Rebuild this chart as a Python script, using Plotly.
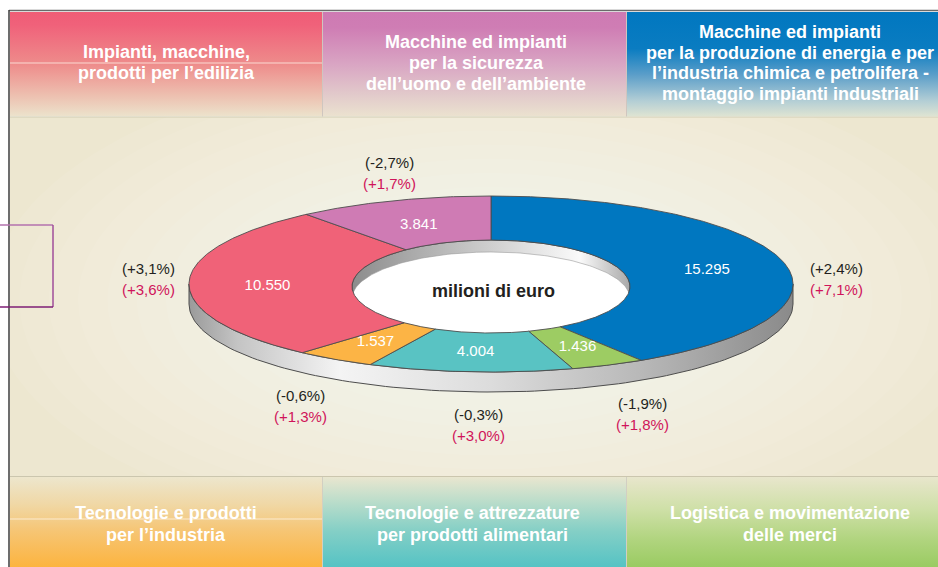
import numpy as np
import plotly.graph_objects as go

# ---------------- data ----------------
categories = [
    "Macchine ed impianti per la produzione di energia e per l’industria chimica e petrolifera - montaggio impianti industriali",
    "Logistica e movimentazione delle merci",
    "Tecnologie e attrezzature per prodotti alimentari",
    "Tecnologie e prodotti per l’industria",
    "Impianti, macchine, prodotti per l’edilizia",
    "Macchine ed impianti per la sicurezza dell’uomo e dell’ambiente",
]
values = [15295, 1436, 4004, 1537, 10550, 3841]          # milioni di euro
value_labels = ["15.295", "1.436", "4.004", "1.537", "10.550", "3.841"]
var_first = ["(+2,4%)", "(-1,9%)", "(-0,3%)", "(-0,6%)", "(+3,1%)", "(-2,7%)"]
var_second = ["(+7,1%)", "(+1,8%)", "(+3,0%)", "(+1,3%)", "(+3,6%)", "(+1,7%)"]
center_label = "milioni di euro"

header_top = [
    ["Impianti, macchine,", "prodotti per l’edilizia"],
    ["Macchine ed impianti", "per la sicurezza", "dell’uomo e dell’ambiente"],
    ["Macchine ed impianti", "per la produzione di energia e per",
     "l’industria chimica e petrolifera -", "montaggio impianti industriali"],
]
header_bottom = [
    ["Tecnologie e prodotti", "per l’industria"],
    ["Tecnologie e attrezzature", "per prodotti alimentari"],
    ["Logistica e movimentazione", "delle merci"],
]

# ---------------- styles / layout ----------------
W, H = 938, 567
slice_colors = ["#0077c0", "#9dcc63", "#59c3c3", "#fcb445", "#f06278", "#cf7bb4"]
FONT = "Liberation Sans, Arial, Helvetica, sans-serif"
CX, CY, RX, RY = 491, 284, 302, 88          # outer ellipse (top face)
HCX, HCY, HRX, HRY = 491, 286.5, 139, 46.5  # hole ellipse
THICK = 20
FLOOR = 12
pct_pos = [(836, 279), (642, 414), (478, 425), (300, 406), (148, 279), (389, 173)]

fig = go.Figure()


def add_poly(xs, ys, fill=None, line_color=None, line_width=0, gradient=None, opacity=1.0):
    kw = dict(x=list(xs) + [xs[0]], y=list(ys) + [ys[0]], mode="lines", fill="toself",
              hoverinfo="skip", showlegend=False, opacity=opacity,
              line=dict(color=line_color or "rgba(0,0,0,0)", width=line_width))
    if gradient is not None:
        kw["fillgradient"] = gradient
    else:
        kw["fillcolor"] = fill
    fig.add_trace(go.Scatter(**kw))


def arc(cx, cy, rx, ry, t0, t1, n=120):
    t = np.radians(np.linspace(t0, t1, n))
    return cx + rx * np.sin(t), cy - ry * np.cos(t)


# cream panel
add_poly([10, W, W, 10], [117, 117, 477, 477], fill="#ede7d0")
# radial glow (stacked translucent ellipses)
for s in np.linspace(1.0, 0.12, 16):
    ex, ey = arc(490, 300, 500 * s, 240 * s, 0, 360, 180)
    add_poly(ex, ey, fill="rgba(255,255,253,1)", opacity=0.065)

# header boxes (vertical gradients)
top_boxes = [(10, 322.5), (322.5, 626.5), (626.5, W)]
top_scales = [
    [[0, "#ef5d76"], [0.12, "#f0617a"], [0.5, "#ee8c8b"], [0.8, "#edc0b0"], [1, "#ece3cc"]],
    [[0, "#ce7ab3"], [0.15, "#cf7db4"], [0.5, "#d9a5c3"], [0.8, "#e2cbcb"], [1, "#ebe2cf"]],
    [[0, "#0077c0"], [0.35, "#0a7cc1"], [0.6, "#5b9ec9"], [0.85, "#b3ced5"], [1, "#dfe4d2"]],
]
for (x0, x1), cs in zip(top_boxes, top_scales):
    add_poly([x0, x1, x1, x0], [12, 12, 116.5, 116.5],
             gradient=dict(type="vertical", start=12, stop=116.5, colorscale=cs))
bot_scales = [
    [[0, "#ede6cd"], [0.3, "#f0d8a6"], [0.6, "#f6c574"], [1, "#fcb43f"]],
    [[0, "#e9e6cf"], [0.3, "#b6dcca"], [0.6, "#84cfc6"], [1, "#55c3c4"]],
    [[0, "#e8e6cc"], [0.35, "#cfe0a8"], [0.7, "#b0d47e"], [1, "#9acb62"]],
]
for (x0, x1), cs in zip(top_boxes, bot_scales):
    add_poly([x0, x1, x1, x0], [477, 477, H + 2, H + 2],
             gradient=dict(type="vertical", start=477, stop=H, colorscale=cs))

# ---------------- donut ----------------
total = float(sum(values))
bounds = np.concatenate([[0], np.cumsum(values) / total * 360.0])

# outer side wall (front half)
sx1, sy1 = arc(CX, CY, RX, RY, 90, 270)
sx2, sy2 = arc(CX, CY + THICK, RX, RY, 270, 90)
add_poly(np.concatenate([sx1, sx2]), np.concatenate([sy1, sy2]), line_color="#4d4d4d", line_width=1,
         gradient=dict(type="horizontal", start=CX - RX, stop=CX + RX,
                       colorscale=[[0, "#9a9a9a"], [0.08, "#c4c4c4"], [0.25, "#f4f4f4"],
                                   [0.5, "#dcdcdc"], [0.75, "#b8b8b8"], [1, "#8a8a8a"]]))
# hole wall
hx, hy = arc(HCX, HCY, HRX, HRY, 0, 360, 240)
add_poly(hx, hy, line_color="#4d4d4d", line_width=1,
         gradient=dict(type="horizontal", start=HCX - HRX, stop=HCX + HRX,
                       colorscale=[[0, "#8c8c8c"], [0.2, "#a8a8a8"], [0.5, "#cfcfcf"],
                                   [0.82, "#fafafa"], [1, "#a8a8a8"]]))
# hole floor
fx, fy = arc(HCX, HCY + FLOOR, HRX, HRY, 0, 360, 240)
add_poly(fx, fy, fill="#ffffff", line_color="#9a9a9a", line_width=0.6)

# slices (top face)
for i, v in enumerate(values):
    t0, t1 = bounds[i], bounds[i + 1]
    n = max(8, int((t1 - t0) * 2))
    ox, oy = arc(CX, CY, RX, RY, t0, t1, n)
    ix, iy = arc(HCX, HCY, HRX, HRY, t1, t0, n)
    add_poly(np.concatenate([ox, ix]), np.concatenate([oy, iy]), fill=slice_colors[i],
             line_color="#4d4d4d", line_width=0.9)

# value labels
mids = (bounds[:-1] + bounds[1:]) / 2
lx = CX + RX * 0.74 * np.sin(np.radians(mids))
ly = CY - RY * 0.74 * np.cos(np.radians(mids)) + 3
fig.add_trace(go.Scatter(x=lx, y=ly, mode="text", text=value_labels, hoverinfo="skip",
                         showlegend=False, textposition="middle center",
                         textfont=dict(family=FONT, size=15, color="#ffffff")))

# ---------------- annotations ----------------
ann = []
for (px, py), a, b in zip(pct_pos, var_first, var_second):
    ann.append(dict(x=px, y=py - 10.5, text=a, showarrow=False, xanchor="center", yanchor="middle",
                    font=dict(family=FONT, size=15, color="#231f20")))
    ann.append(dict(x=px, y=py + 10.5, text=b, showarrow=False, xanchor="center", yanchor="middle",
                    font=dict(family=FONT, size=15, color="#d0145a")))
ann.append(dict(x=493, y=291, text="<b>%s</b>" % center_label, showarrow=False,
                font=dict(family=FONT, size=18, color="#231f20")))

top_centers = [(166, [52, 73]), (476, [42, 63, 84]), (790, [32, 52.5, 73, 93.5])]
for (cx_, ys), lines in zip(top_centers, header_top):
    for yy, txt in zip(ys, lines):
        ann.append(dict(x=cx_, y=yy, text="<b>%s</b>" % txt, showarrow=False,
                        font=dict(family=FONT, size=18, color="#ffffff")))
bot_centers = [(166, [513, 535]), (472, [513, 535]), (790, [513, 535])]
for (cx_, ys), lines in zip(bot_centers, header_bottom):
    for yy, txt in zip(ys, lines):
        ann.append(dict(x=cx_, y=yy, text="<b>%s</b>" % txt, showarrow=False,
                        font=dict(family=FONT, size=18, color="#ffffff")))

# ---------------- frame lines ----------------
shapes = [
    dict(type="line", x0=9, x1=W, y0=10.5, y1=10.5, line=dict(color="#6a6a6a", width=1.5)),
    dict(type="line", x0=9, x1=9, y0=10, y1=H, line=dict(color="#3c3c3c", width=1.5)),
    dict(type="line", x0=10, x1=W, y0=117, y1=117, line=dict(color="#d2cdb4", width=1.2)),
    dict(type="line", x0=10, x1=W, y0=476.5, y1=476.5, line=dict(color="#cbc6ae", width=1.2)),
    dict(type="line", x0=322.5, x1=322.5, y0=12, y1=116.5, line=dict(color="#cfc6bf", width=1)),
    dict(type="line", x0=626.5, x1=626.5, y0=12, y1=116.5, line=dict(color="#cfc6bf", width=1)),
    dict(type="line", x0=322.5, x1=322.5, y0=477, y1=H, line=dict(color="#d2cfc2", width=1)),
    dict(type="line", x0=626.5, x1=626.5, y0=477, y1=H, line=dict(color="#d2cfc2", width=1)),
    dict(type="line", x0=10, x1=322, y0=63, y1=63, line=dict(color="rgba(255,245,235,0.75)", width=1)),
    dict(type="line", x0=10, x1=322, y0=519, y1=519, line=dict(color="rgba(255,250,240,0.7)", width=1)),
    dict(type="line", x0=0, x1=53, y0=225, y1=225, line=dict(color="#b372ae", width=1.5)),
    dict(type="line", x0=53, x1=53, y0=225, y1=307, line=dict(color="#a04e9a", width=1.5)),
    dict(type="line", x0=0, x1=53, y0=307, y1=307, line=dict(color="#7e1e74", width=1.5)),
]

fig.update_layout(
    width=W, height=H, margin=dict(l=0, r=0, t=0, b=0),
    paper_bgcolor="#ffffff", plot_bgcolor="#ffffff",
    xaxis=dict(range=[0, W], visible=False, fixedrange=True),
    yaxis=dict(range=[H, 0], visible=False, fixedrange=True),
    annotations=ann, shapes=shapes, showlegend=False,
)

fig.write_html("out.html", config={"displayModeBar": False},
               post_script="document.body.style.margin='0';document.body.style.overflow='hidden';")
